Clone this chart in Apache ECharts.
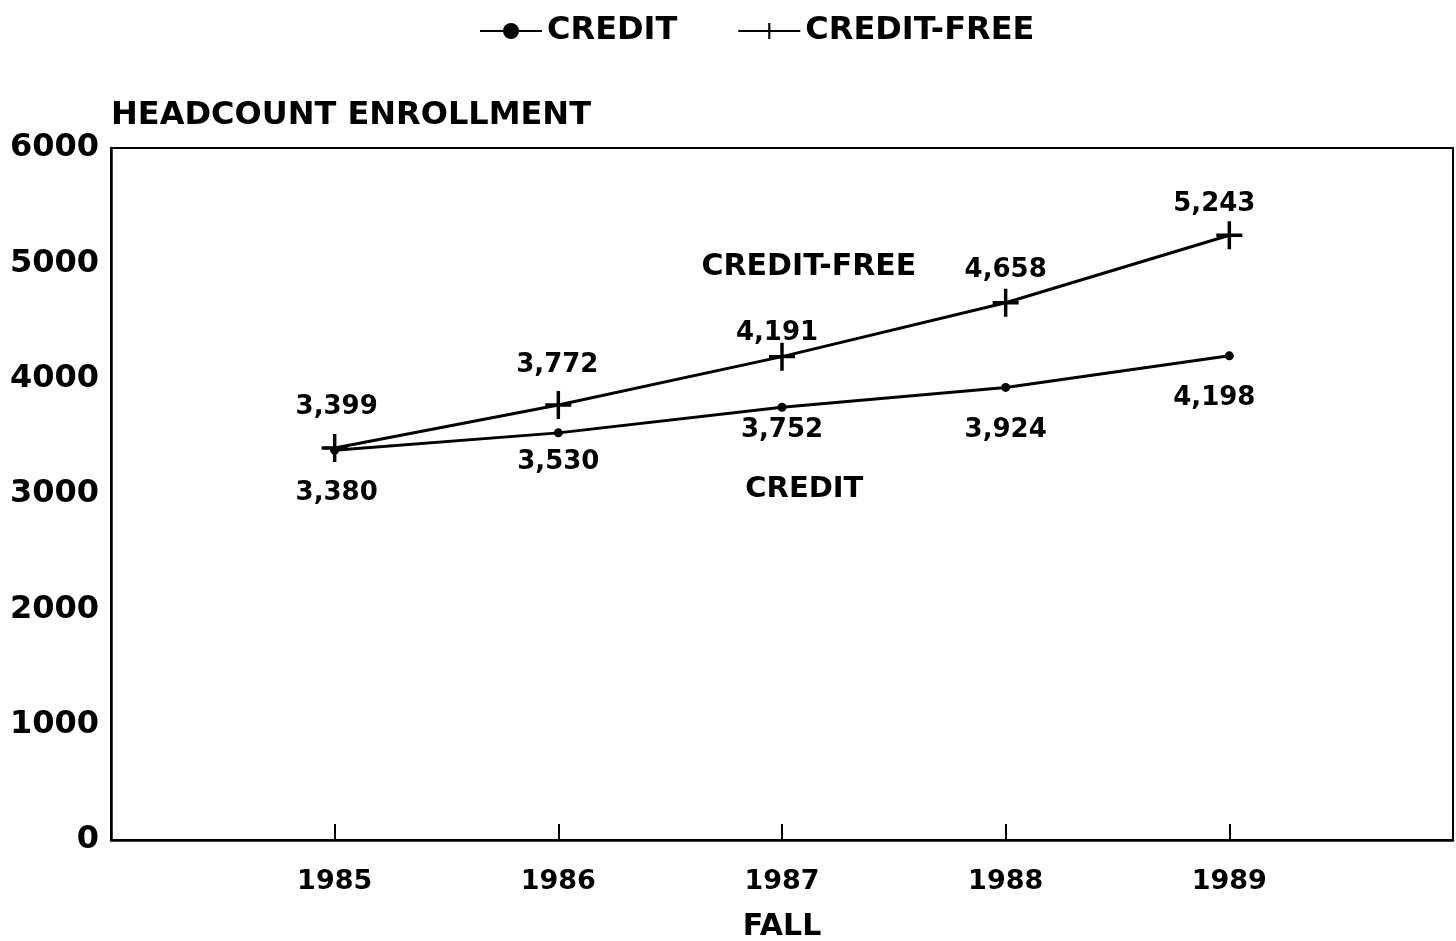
<!DOCTYPE html>
<html>
<head>
<meta charset="utf-8">
<script src="https://cdn.jsdelivr.net/npm/echarts@6/dist/echarts.min.js"></script>
<style>
html,body{margin:0;padding:0;background:#fff;}
#chart{width:1456px;height:941px;}
</style>
</head>
<body>
<div id="chart"></div>
<script>
// ---- data ----
var years = [1985, 1986, 1987, 1988, 1989];
var creditValues = [3380, 3530, 3752, 3924, 4198];
var creditFreeValues = [3399, 3772, 4191, 4658, 5243];
var yTicks = [0, 1000, 2000, 3000, 4000, 5000, 6000];
var seriesNames = ['CREDIT', 'CREDIT-FREE'];
var titleText = 'HEADCOUNT ENROLLMENT';
var xAxisName = 'FALL';

// ---- label placement (styling, not data) ----
var creditLabelOffsets = [[2, 43], [0, 29], [0, 23], [0, 43], [-15, 42]];
var creditFreeLabelOffsets = [[2, -41], [-1, -40], [-5, -23], [0, -33], [-15, -31]];

var FONT = 'DejaVu Sans';
var chart = echarts.init(document.getElementById('chart'), null, {renderer: 'canvas'});

function buildData(values, offsets) {
  return years.map(function (y, i) {
    return {
      value: [y, values[i]],
      label: {offset: offsets[i]}
    };
  });
}

var plusPath = 'path://M-1.6,-13 H1.6 V-1.6 H12 V1.6 H1.6 V13 H-1.6 V1.6 H-12 V-1.6 H-1.6 Z';

var labelStyle = {
  show: true,
  position: 'inside',
  color: '#000',
  fontFamily: FONT,
  fontWeight: 'bold',
  fontSize: 26,
  formatter: function (p) { return echarts.format.addCommas(p.value[1]); }
};

var option = {
  backgroundColor: '#fff',
  animation: false,
  title: {
    text: titleText,
    left: 106,
    top: 95,
    textStyle: {fontFamily: FONT, fontWeight: 'bold', fontSize: 32, color: '#000'}
  },
  legend: {
    left: 474,
    top: 10,
    itemWidth: 62,
    itemHeight: 20,
    itemGap: 60,
    textStyle: {fontFamily: FONT, fontWeight: 'bold', fontSize: 32, color: '#000'},
    data: seriesNames
  },
  grid: {
    left: 111, right: 3, top: 148, bottom: 101,
    outerBoundsMode: 'none',
    containLabel: false,
    show: true, borderColor: '#000', borderWidth: 2, backgroundColor: 'transparent'
  },
  xAxis: {
    type: 'value',
    min: 1984, max: 1990, interval: 1,
    name: xAxisName,
    nameLocation: 'middle',
    nameGap: 72,
    nameTextStyle: {fontFamily: FONT, fontWeight: 'bold', fontSize: 30, color: '#000'},
    axisLine: {show: true, lineStyle: {color: '#000', width: 2.5}},
    axisTick: {show: true, inside: true, length: 16, lineStyle: {color: '#000', width: 2},
      customValues: years},
    axisLabel: {
      color: '#000', fontFamily: FONT, fontWeight: 'bold', fontSize: 27, margin: 28,
      customValues: years,
      formatter: function (v) { return String(v); }
    },
    splitLine: {show: false}
  },
  yAxis: {
    type: 'value',
    min: yTicks[0], max: yTicks[yTicks.length - 1], interval: 1000,
    axisLine: {show: true, lineStyle: {color: '#000', width: 2.5}},
    axisTick: {show: false},
    axisLabel: {color: '#000', fontFamily: FONT, fontWeight: 'bold', fontSize: 32, margin: 12,
      padding: [6, 0, 0, 0],
      formatter: function (v) { return String(v); }},
    splitLine: {show: false}
  },
  series: [
    {
      name: seriesNames[0],
      type: 'line',
      data: buildData(creditValues, creditLabelOffsets),
      symbol: 'circle',
      symbolSize: 9,
      itemStyle: {color: '#000'},
      lineStyle: {color: '#000', width: 3},
      label: labelStyle,
      markPoint: {
        symbol: 'circle', symbolSize: 0,
        label: {show: true, position: 'inside', color: '#000', fontFamily: FONT, fontWeight: 'bold', fontSize: 29,
          formatter: seriesNames[0]},
        data: [{coord: [1987.1, 3043]}]
      }
    },
    {
      name: seriesNames[1],
      type: 'line',
      data: buildData(creditFreeValues, creditFreeLabelOffsets),
      symbol: plusPath,
      symbolSize: [26, 28],
      itemStyle: {color: '#000'},
      lineStyle: {color: '#000', width: 3},
      label: labelStyle,
      markPoint: {
        symbol: 'circle', symbolSize: 0,
        label: {show: true, position: 'inside', color: '#000', fontFamily: FONT, fontWeight: 'bold', fontSize: 30,
          formatter: seriesNames[1]},
        data: [{coord: [1987.12, 4968]}]
      }
    }
  ]
};
chart.setOption(option);
</script>
</body>
</html>
